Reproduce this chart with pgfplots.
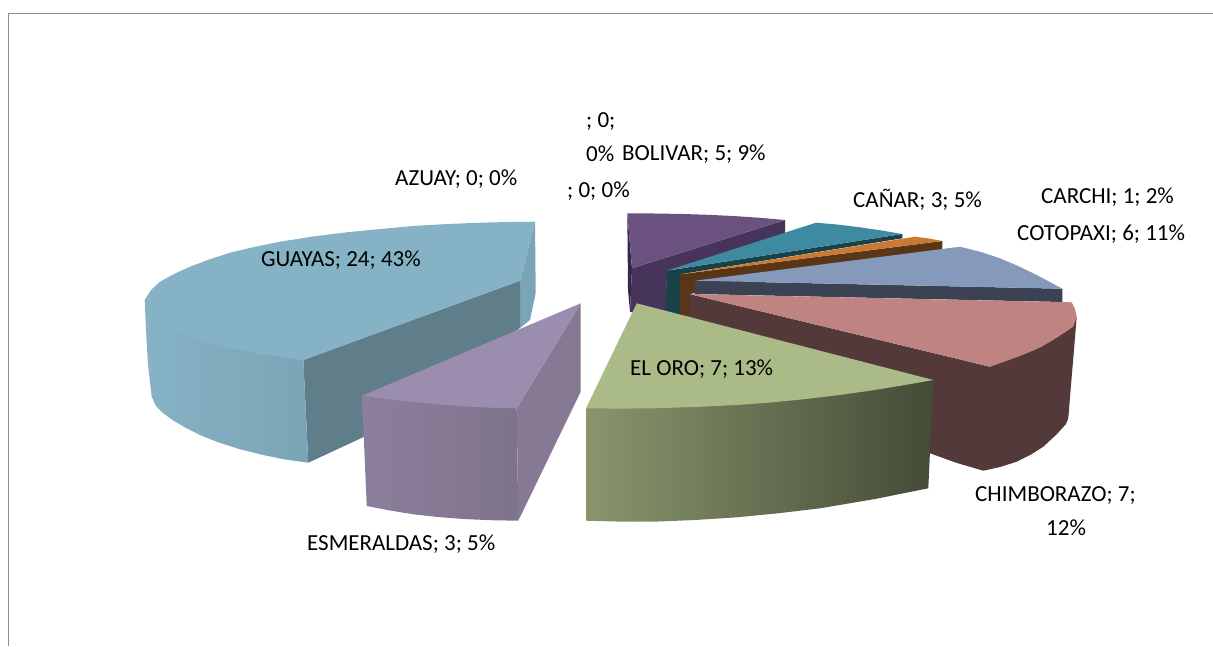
\documentclass[border=0pt]{standalone}
\usepackage{fontspec}
\setmainfont{Carlito}
\usepackage{pgfplots}
\pgfplotsset{compat=1.18}

\definecolor{guatop}{HTML}{85B2C4}
\definecolor{guainner}{HTML}{607D8A}
\definecolor{guaback}{HTML}{7AA5B7}
\definecolor{esmtop}{HTML}{9B8DAD}
\definecolor{esmside}{HTML}{857993}
\definecolor{orotop}{HTML}{ABBB88}
\definecolor{chitop}{HTML}{BF8382}
\definecolor{chidark}{HTML}{53393A}
\definecolor{cottop}{HTML}{8599BB}
\definecolor{cotdark}{HTML}{3A4254}
\definecolor{cartop}{HTML}{C97A30}
\definecolor{cardark}{HTML}{5A3518}
\definecolor{cantop}{HTML}{3E8AA0}
\definecolor{candark}{HTML}{1A4148}
\definecolor{boltop}{HTML}{6A5180}
\definecolor{boldark}{HTML}{46345A}
\definecolor{bolback}{HTML}{33264A}

\tikzset{lab/.style={anchor=west, inner sep=0pt, text=black, font=\fontsize{23}{27}\selectfont}}

\begin{document}
\begin{tikzpicture}[x=1pt,y=1pt]
\clip (0,0) rectangle (1213,646);
\begin{axis}[
    at={(0,0)}, anchor=south west,
    scale only axis,
    width=1213pt, height=646pt,
    xmin=0, xmax=1213, ymin=0, ymax=646,
    y dir=reverse,
    hide axis,
    clip=false,
    no markers,
    every axis plot/.append style={draw=none, line width=0pt},
]

% frame of the chart area
\addplot[draw=black!45, line width=1.8pt] coordinates {(8.5,646) (8.5,13.5) (1213,13.5)};

% BOLIVAR
\addplot[fill=bolback] coordinates {(627.3,213.3) (632,268.3) (630,312) (628,290)} -- cycle;
\addplot[fill=boldark] coordinates {(632,268.3) (630,312) (666,312) (667,271) (785,233.3) (785,220)} -- cycle;
\addplot[fill=boltop] coordinates {(627.3,213.3) (655,213.5) (683.3,214) (708,214.8) (733.3,216) (760,217.8) (785,220) (632,268.3)} -- cycle;

% CANAR
\addplot[fill=candark] coordinates {(666.7,270.7) (665.7,312) (680,315) (680,274.3) (902.3,238.3) (902.3,234)} -- cycle;
\addplot[fill=cantop] coordinates {(666.7,270.7) (816,222.7) (838,224.6) (860,227.3) (881,230.4) (902.3,234)} -- cycle;

% CARCHI
\addplot[fill=cardark] coordinates {(680,274.3) (680,315) (690,317) (690,294) (942.3,249.3) (942.3,241)} -- cycle;
\addplot[fill=cartop] coordinates {(680,274.3) (915,236.7) (929,238.5) (942.3,241)} -- cycle;

% COTOPAXI
\addplot[fill=cotdark] coordinates {(695,280.7) (695,294) (1062.3,302) (1062.3,288.7)} -- cycle;
\addplot[fill=cottop] coordinates {(695,280.7) (960,246.7) (981,252) (1000,258.3) (1017,265.5) (1033.3,273.3) (1048,281) (1062.3,288.7)} -- cycle;

% CHIMBORAZO
\addplot[fill=chidark] coordinates {(689.3,294) (689.3,320) (930,453.3) (957,463) (983.3,470.7) (1000,467) (1016.7,461.7) (1031,454.5) (1043.3,446.7) (1057,434) (1066,424) (1068.3,418.3) (1071,385) (1074,350) (1076.7,316.7) (990,366.7)} -- cycle;
\addplot[fill=chitop] coordinates {(689.3,294) (1071.7,302.3) (1075,309) (1076.7,316.7) (1073.3,326.7) (1064,333) (1053,340) (1041,347) (1026.7,353.3) (1009,360) (990,366.7)} -- cycle;

% EL ORO
\addplot[left color=orotop!80!black, right color=orotop!40!black] coordinates {(586,408.3) (586,520.7) (620,521.6) (653.3,521.7) (695,520) (736.7,517.3) (778,513.3) (820,508.3) (875,499) (928.3,488.3) (933.3,380)} -- cycle;
\addplot[fill=orotop] coordinates {(636.7,303.3) (586,408.3) (620,408.6) (653.3,408.3) (695,407) (736.7,405) (770,402.5) (803.3,399.3) (837,395.3) (870,390.7) (902,385.5) (933.3,380)} -- cycle;

% GUAYAS
\addplot[fill=guaback] coordinates {(520,280.7) (535,221.7) (535.7,293) (530,320) (520,328)} -- cycle;
\addplot[fill=guainner] coordinates {(303.3,360) (308.3,462.7) (363,437.3) (520,328) (520,280.7)} -- cycle;
\addplot[left color=guatop, right color=guaback] coordinates {(144.7,300) (146,330) (148,365) (151.7,396.7) (156,406) (163.3,413.3) (174,421) (186.7,428.3) (201,435.5) (216.7,441.7) (239,449) (263.3,455) (285,459.5) (308.3,462.7) (303.3,360)} -- cycle;
\addplot[fill=guatop] coordinates {(535,221.7) (507,222) (480,222.7) (447,224) (413.3,226) (380,229) (346.7,232.3) (313,236.5) (280,241.7) (254,247) (230,252.7) (209,259.5) (190,266.7) (174,274) (160,281.7) (151,290) (144.7,300) (148,312) (160,322) (180,333.3) (194,338.5) (210,342.7) (233,348.5) (256.7,353.3) (280,357) (303.3,360) (520,280.7)} -- cycle;

% ESMERALDAS
\addplot[left color=esmtop!90!black, right color=esmside!95!black] coordinates {(362,395.7) (366.7,506) (390,510.5) (413.3,514.3) (438,517) (463.3,519) (490,520.2) (518.3,520.7) (516.7,408.3)} -- cycle;
\addplot[fill=esmside] coordinates {(516.7,408.3) (518.3,520.7) (580.7,391.7) (580.7,303.3)} -- cycle;
\addplot[fill=esmtop] coordinates {(580.7,303.3) (362,395.7) (387,399.3) (413,402) (439,404.5) (465,406.5) (491,407.7) (516.7,408.3)} -- cycle;

% data labels
\node[lab] at (axis cs:586,122) {; 0;};
\node[lab] at (axis cs:586,154) {0\%};
\node[lab] at (axis cs:622,154) {BOLIVAR; 5; 9\%};
\node[lab] at (axis cs:567,191) {; 0; 0\%};
\node[lab] at (axis cs:395,179) {AZUAY; 0; 0\%};
\node[lab] at (axis cs:853,200) {CAÑAR; 3; 5\%};
\node[lab] at (axis cs:1041,197) {CARCHI; 1; 2\%};
\node[lab] at (axis cs:1017,234) {COTOPAXI; 6; 11\%};
\node[lab] at (axis cs:261,260) {GUAYAS; 24; 43\%};
\node[lab] at (axis cs:630,369) {EL ORO; 7; 13\%};
\node[lab] at (axis cs:975,496) {CHIMBORAZO; 7;};
\node[lab] at (axis cs:1046,528) {12\%};
\node[lab] at (axis cs:307,544) {ESMERALDAS; 3; 5\%};

\end{axis}
\end{tikzpicture}
\end{document}
